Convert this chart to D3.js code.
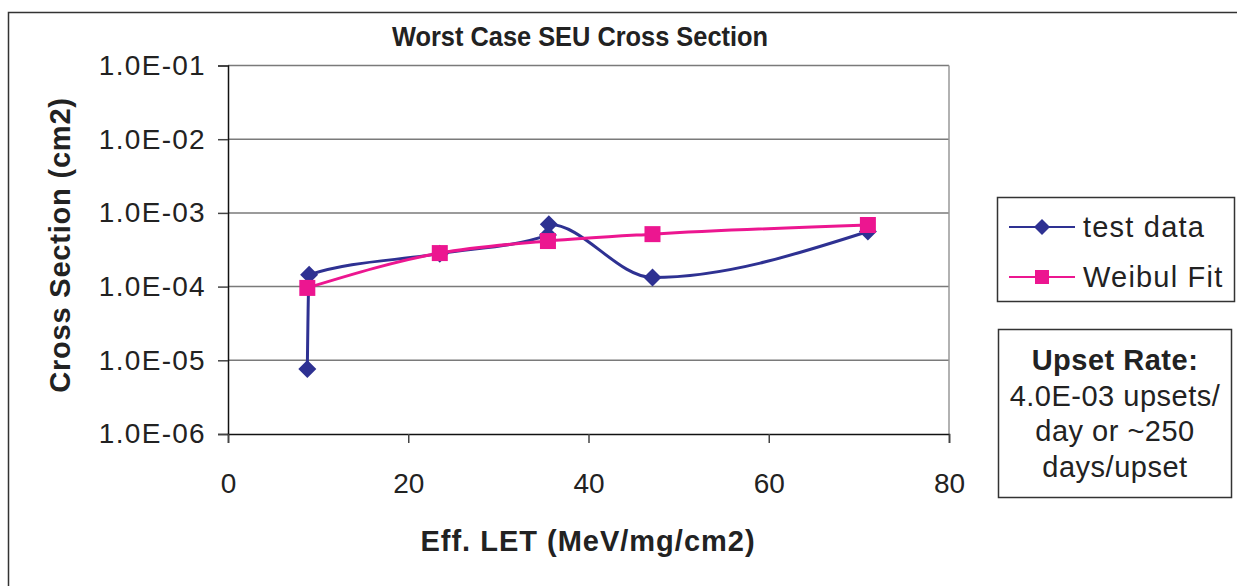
<!DOCTYPE html>
<html>
<head>
<meta charset="utf-8">
<script src="https://cdn.jsdelivr.net/npm/d3@7/dist/d3.min.js"></script>
<style>
  body { margin: 0; background: #fff; }
  svg { display: block; }
  text { font-family: "Liberation Sans", Arial, sans-serif; fill: #222; }
</style>
</head>
<body>
<div id="chart"></div>
<script>
// data
var testLet = [8.8, 9.0, 23.5, 35.5, 35.6, 47.1, 71.0];
var testXs  = [7.6e-6, 1.45e-4, 2.8e-4, 5.0e-4, 7.0e-4, 1.33e-4, 5.6e-4];
var fitLet  = [8.8, 23.5, 35.5, 47.1, 71.0];
var fitXs   = [9.6e-5, 2.85e-4, 4.15e-4, 5.15e-4, 6.85e-4];
var xTicks  = [0, 20, 40, 60, 80];
var yTicks  = [1e-6, 1e-5, 1e-4, 1e-3, 1e-2, 1e-1];
var seriesNames = ["test data", "Weibul Fit"];
var noteLines = ["Upset Rate:", "4.0E-03 upsets/", "day or ~250", "days/upset"];

var width = 1237, height = 586;
var blue = "#2E3192", pink = "#EC1690";

var svg = d3.select("#chart").append("svg")
    .attr("width", width)
    .attr("height", height);

// outer frame (runs off the right / bottom edge)
svg.append("rect")
    .attr("x", 8.5).attr("y", 12.5)
    .attr("width", 1260).attr("height", 620)
    .attr("fill", "none").attr("stroke", "#333").attr("stroke-width", 1.5);

var x = d3.scaleLinear().domain([0, 80]).range([228, 949]);
var y = d3.scaleLog().domain([1e-6, 1e-1]).range([434, 65.5]);

var fmt = function (d) {
    var e = Math.round(Math.log10(d));
    return "1.0E-" + (Math.abs(e) < 10 ? "0" : "") + Math.abs(e);
};

// gridlines
svg.append("g")
    .selectAll("line")
    .data(yTicks.slice(1))
    .enter().append("line")
    .attr("x1", 228).attr("x2", 949)
    .attr("y1", function (d) { return y(d); })
    .attr("y2", function (d) { return y(d); })
    .attr("stroke", "#7a7a7a").attr("stroke-width", 1.5);

// right border of plot area
svg.append("line")
    .attr("x1", 949).attr("x2", 949).attr("y1", 65.5).attr("y2", 434)
    .attr("stroke", "#999").attr("stroke-width", 1.5);

// y axis
var yAxis = svg.append("g")
    .attr("transform", "translate(228,0)")
    .call(d3.axisLeft(y).tickValues(yTicks).tickFormat(fmt).tickSize(10).tickPadding(12));
yAxis.select(".domain").attr("stroke", "#111").attr("stroke-width", 1.5);
yAxis.selectAll(".tick line").attr("stroke", "#444").attr("stroke-width", 1.5);
yAxis.selectAll(".tick text")
    .style("font-family", "'Liberation Sans', Arial, sans-serif")
    .style("font-size", "28px")
    .style("letter-spacing", "1.3px")
    .attr("fill", "#222");

// x axis
var xAxis = svg.append("g")
    .attr("transform", "translate(0,434)")
    .call(d3.axisBottom(x).tickValues(xTicks).tickSize(9).tickPadding(30));
xAxis.select(".domain").attr("stroke", "#111").attr("stroke-width", 1.5);
xAxis.selectAll(".tick line").attr("stroke", "#444").attr("stroke-width", 1.5);
xAxis.selectAll(".tick text")
    .style("font-family", "'Liberation Sans', Arial, sans-serif")
    .style("font-size", "28px")
    .attr("fill", "#222");

// title (narrow face in the original, so squeeze it)
svg.append("text")
    .attr("x", 392).attr("y", 46)
    .attr("textLength", 376)
    .attr("lengthAdjust", "spacingAndGlyphs")
    .style("font-size", "28px")
    .style("font-weight", "bold")
    .text("Worst Case SEU Cross Section");

// axis titles
svg.append("text")
    .attr("transform", "translate(70,245) rotate(-90)")
    .attr("text-anchor", "middle")
    .style("font-size", "29px").style("font-weight", "bold")
    .style("letter-spacing", "0.8px")
    .text("Cross Section (cm2)");

svg.append("text")
    .attr("x", 588).attr("y", 551)
    .attr("text-anchor", "middle")
    .style("font-size", "29px").style("font-weight", "bold")
    .style("letter-spacing", "1px")
    .text("Eff. LET (MeV/mg/cm2)");

// series
var line = d3.line()
    .x(function (d) { return x(d[0]); })
    .y(function (d) { return y(d[1]); })
    .curve(d3.curveMonotoneX);

var testPts = d3.zip(testLet, testXs);
var fitPts = d3.zip(fitLet, fitXs);

var diamond = function (s) { return "M0," + (-s) + "L" + s + ",0L0," + s + "L" + (-s) + ",0Z"; };

svg.append("path").datum(testPts)
    .attr("d", line).attr("fill", "none")
    .attr("stroke", blue).attr("stroke-width", 3);

svg.append("g").selectAll("path")
    .data(testPts)
    .enter().append("path")
    .attr("d", diamond(9))
    .attr("transform", function (d) { return "translate(" + x(d[0]) + "," + y(d[1]) + ")"; })
    .attr("fill", blue);

svg.append("path").datum(fitPts)
    .attr("d", line).attr("fill", "none")
    .attr("stroke", pink).attr("stroke-width", 3);

svg.append("g").selectAll("rect")
    .data(fitPts)
    .enter().append("rect")
    .attr("x", function (d) { return x(d[0]) - 8; })
    .attr("y", function (d) { return y(d[1]) - 8; })
    .attr("width", 16).attr("height", 16)
    .attr("fill", pink);

// legend
var lg = svg.append("g");
lg.append("rect")
    .attr("x", 997.5).attr("y", 197.5).attr("width", 237).attr("height", 104)
    .attr("fill", "#fff").attr("stroke", "#333").attr("stroke-width", 1.5);

seriesNames.forEach(function (name, i) {
    var cy = 227 + i * 50;
    var col = i === 0 ? blue : pink;
    lg.append("line")
        .attr("x1", 1009).attr("x2", 1075).attr("y1", cy).attr("y2", cy)
        .attr("stroke", col).attr("stroke-width", 2.2);
    if (i === 0) {
        lg.append("path").attr("d", diamond(8))
            .attr("transform", "translate(1042," + cy + ")").attr("fill", col);
    } else {
        lg.append("rect").attr("x", 1035).attr("y", cy - 7)
            .attr("width", 14).attr("height", 14).attr("fill", col);
    }
    lg.append("text")
        .attr("x", 1083).attr("y", cy + 10)
        .style("font-size", "29px")
        .style("letter-spacing", "1.2px")
        .text(name);
});

// upset rate note
var nb = svg.append("g");
nb.append("rect")
    .attr("x", 998.5).attr("y", 329.5).attr("width", 233).attr("height", 168)
    .attr("fill", "#fff").attr("stroke", "#333").attr("stroke-width", 1.5);

noteLines.forEach(function (t, i) {
    nb.append("text")
        .attr("x", 1115).attr("y", 370 + i * 35.5)
        .attr("text-anchor", "middle")
        .style("font-size", "29px")
        .style("letter-spacing", "0.5px")
        .style("font-weight", i === 0 ? "bold" : "normal")
        .text(t);
});
</script>
</body>
</html>
